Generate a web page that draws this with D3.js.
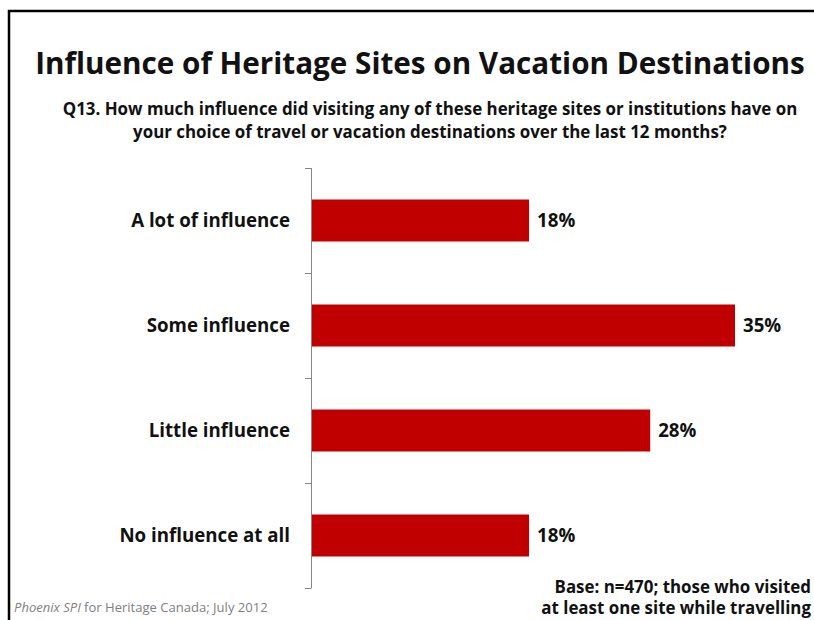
<!DOCTYPE html>
<html>
<head>
<meta charset="utf-8">
<script src="https://cdn.jsdelivr.net/npm/d3@7"></script>
<style>
  body { margin: 0; background: #fff; }
  svg { display: block; font-family: "Open Sans", Lato, sans-serif; }
</style>
</head>
<body>
<svg width="814" height="620"></svg>
<script>
const categories = ['A lot of influence', 'Some influence', 'Little influence', 'No influence at all'];
const values = [18, 35, 28, 18];
const valueLabels = ['18%', '35%', '28%', '18%'];

const titleText = 'Influence of Heritage Sites on Vacation Destinations';
const subtitleLines = [
    'Q13. How much influence did visiting any of these heritage sites or institutions have on',
    'your choice of travel or vacation destinations over the last 12 months?'
];
const baseLines = ['Base: n=470; those who visited', 'at least one site while travelling'];

const svg = d3.select('svg');

// shrink/grow a font so one reference string gets the width seen in the slide
function fitSize(node, size, target) {
    return size * target / node.getComputedTextLength();
}

// slide frame
svg.append('path')
    .attr('d', 'M9,640 V11 H830')
    .attr('fill', 'none')
    .attr('stroke', '#000')
    .attr('stroke-width', 2.5);

// title
const title = svg.append('text')
    .attr('x', 420)
    .attr('y', 74)
    .attr('text-anchor', 'middle')
    .attr('font-size', 30)
    .attr('font-weight', 'bold')
    .attr('fill', '#111')
    .text(titleText);
title.attr('font-size', fitSize(title.node(), 30, 770));

const subtitle = svg.append('g')
    .selectAll('text')
    .data(subtitleLines)
    .join('text')
    .attr('x', 430)
    .attr('y', (d, i) => 115 + i * 23)
    .attr('text-anchor', 'middle')
    .attr('font-size', 15)
    .attr('font-weight', 'bold')
    .attr('fill', '#111')
    .text(d => d);
const subSize = fitSize(subtitle.node(), 15, 735);
subtitle.attr('font-size', subSize);

const axisX = 311;
const plotTop = 168;
const plotBottom = 588;

const xScale = d3.scaleLinear()
    .domain([0, 35])
    .range([axisX, 735]);

const yScale = d3.scaleBand()
    .domain(categories)
    .range([plotTop, plotBottom])
    .paddingInner(0.6)
    .paddingOuter(0.3);

// category axis with ticks between bands
const tickYs = d3.range(categories.length + 1).map(i => plotTop + i * (plotBottom - plotTop) / categories.length);

const axisG = svg.append('g').attr('stroke', '#868686').attr('stroke-width', 1);
axisG.append('line')
    .attr('x1', axisX + 0.5).attr('x2', axisX + 0.5)
    .attr('y1', plotTop).attr('y2', plotBottom);
axisG.selectAll('line.tick')
    .data(tickYs)
    .join('line')
    .attr('class', 'tick')
    .attr('x1', axisX - 6).attr('x2', axisX + 0.5)
    .attr('y1', d => Math.round(d) + 0.5)
    .attr('y2', d => Math.round(d) + 0.5);

// bars
svg.append('g')
    .selectAll('rect')
    .data(values)
    .join('rect')
    .attr('x', axisX + 1)
    .attr('y', (d, i) => yScale(categories[i]))
    .attr('width', d => xScale(d) - axisX - 1)
    .attr('height', yScale.bandwidth())
    .attr('fill', '#c00000');

// category labels
const catLabels = svg.append('g')
    .selectAll('text')
    .data(categories)
    .join('text')
    .attr('x', 290)
    .attr('y', d => yScale(d) + yScale.bandwidth() / 2)
    .attr('dy', '0.36em')
    .attr('text-anchor', 'end')
    .attr('font-size', 18)
    .attr('font-weight', 'bold')
    .attr('fill', '#111')
    .text(d => d);
const labelSize = fitSize(catLabels.node(), 18, 159);
catLabels.attr('font-size', labelSize);

// value labels
svg.append('g')
    .selectAll('text')
    .data(values)
    .join('text')
    .attr('x', d => xScale(d) + 8)
    .attr('y', (d, i) => yScale(categories[i]) + yScale.bandwidth() / 2)
    .attr('dy', '0.36em')
    .attr('font-size', labelSize)
    .attr('font-weight', 'bold')
    .attr('fill', '#111')
    .text((d, i) => valueLabels[i]);

// base note (kept just inside the right edge)
const baseNote = svg.append('g')
    .selectAll('text')
    .data(baseLines)
    .join('text')
    .attr('x', (d, i) => i === 0 ? 556 : 551)
    .attr('y', (d, i) => 593 + i * 21)
    .attr('font-size', subSize)
    .attr('font-weight', 'bold')
    .attr('fill', '#111')
    .text(d => d);
baseNote.each(function () {
    const el = d3.select(this);
    const right = +el.attr('x') + this.getComputedTextLength();
    if (right > 811) el.attr('x', +el.attr('x') - (right - 811));
});

// source footer
const footer = svg.append('text')
    .attr('x', 14)
    .attr('y', 612)
    .attr('font-size', 11)
    .attr('fill', '#808080');
footer.append('tspan').attr('font-style', 'italic').text('Phoenix SPI');
footer.append('tspan').text(' for Heritage Canada; July 2012');
footer.attr('font-size', fitSize(footer.node(), 11, 254));
</script>
</body>
</html>
